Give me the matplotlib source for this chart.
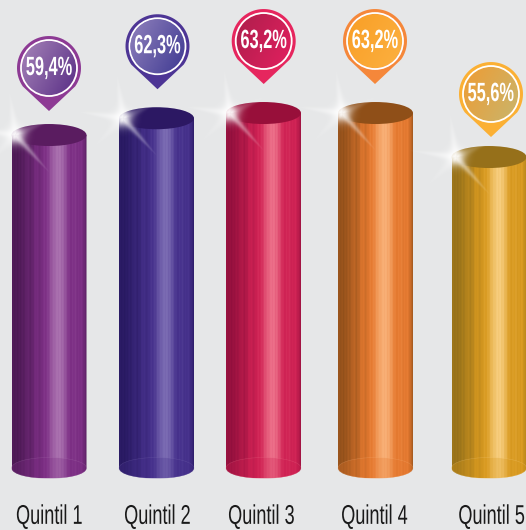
import matplotlib
matplotlib.use("Agg")
import matplotlib.pyplot as plt
import numpy as np
from matplotlib.colors import LinearSegmentedColormap
from matplotlib.patches import Ellipse, PathPatch, Polygon
from matplotlib.path import Path
from matplotlib.patheffects import AbstractPathEffect
from matplotlib.transforms import Affine2D

plt.rcParams['font.family'] = ['Liberation Sans', 'DejaVu Sans']

quintiles = ["Quintil 1", "Quintil 2", "Quintil 3", "Quintil 4", "Quintil 5"]
values = [59.4, 62.3, 63.2, 63.2, 55.6]
labels = ["59,4%", "62,3%", "63,2%", "63,2%", "55,6%"]

# colours for each cylinder
dark = ["#4a1852", "#271860", "#900f3c", "#8f4f1a", "#94701a"]
mid = ["#7d2f85", "#46318c", "#d02254", "#e67a30", "#d99a20"]
light = ["#b07ab5", "#8273b8", "#f07a90", "#fbb780", "#fbd48a"]
tops = ["#5a1c60", "#2c1863", "#980f3a", "#8f4f18", "#96701a"]
pins = ["#8d3a94", "#4d3595", "#e6265e", "#f5873a", "#fbb034"]
grad_a = ["#a583b8", "#8f80bc", "#ae1e4c", "#f99f26", "#ee9c34"]
grad_b = ["#5a2f86", "#3f3a92", "#e2205f", "#fcb040", "#c9b56c"]

xpos = [49, 156.5, 263.5, 375.5, 489]
pin_x = [49, 157.5, 263.7, 375, 491]
# outer labels are anchored on their figure side so the text box stays inside
label_x = [16, 157.5, 261.5, 374.5, 525]
label_ha = ["left", "center", "center", "center", "right"]
pin_lift = [67, 72, 72, 72, 63]   # pixels from cylinder top to pin centre
cyl_w = 75
scale = 5.79   # pixels per percent
base = 1.89
top_lim = 82.72
bot_lim = -8.82


class Squeeze(AbstractPathEffect):
    # narrow the glyphs around x0 (pixels), no condensed font is installed
    def __init__(self, x0, sx):
        super().__init__()
        self.x0 = x0
        self.sx = sx

    def draw_path(self, renderer, gc, tpath, affine, rgbFace=None):
        t = affine + Affine2D().translate(-self.x0, 0).scale(self.sx, 1).translate(self.x0, 0)
        renderer.draw_path(gc, tpath, t, rgbFace)


fig = plt.figure(figsize=(5.26, 5.30), dpi=100, facecolor="#e6e7e8")
ax = fig.add_axes([0, 0, 1, 1])
ax.set_xlim(0, 526)
ax.set_ylim(bot_lim, top_lim)
ax.set_autoscale_on(False)
ax.axis("off")

# shading across a cylinder, left to right
shade_pos = [0, .06, .1, .2, .24, .32, .38, .46, .52, .58, .68, .74, .8, .92, .97, 1]
shade_val = [.02, .08, .05, .24, .2, .42, .4, .55, .72, .92, .88, .58, .52, .5, .34, .18]
xs = np.linspace(0, 1, 220)
shade = np.interp(xs, shade_pos, shade_val)
shade = shade + 0.03 * np.sign(np.sin(xs * 150)) + 0.02 * np.sign(np.sin(xs * 61 + 1))
shade = np.clip(shade, 0, 1)

# sparkle: rays as (angle, length, half width, strength)
rays = [(98, 46, 4.5, .62), (172, 48, 4, .62), (-48, 52, 3.5, .6), (225, 44, 5, .3), (25, 42, 5, .3)]
sy_px, sx_px = np.mgrid[70:-70:281j, -70:70:281j]
sr = np.hypot(sx_px, sy_px)
spark = np.exp(-(sr / 9.0) ** 2) * 0.75
for ang, ln, wd, st in rays:
    a = np.radians(ang)
    along = sx_px * np.cos(a) + sy_px * np.sin(a)
    across = -sx_px * np.sin(a) + sy_px * np.cos(a)
    f = np.clip(1 - along / ln, 0, 1) * (along > 0)
    spark = 1 - (1 - spark) * (1 - st * f * np.exp(-(across / (wd * f + 0.3)) ** 2))
spark_rgba = np.ones(spark.shape + (4,))
spark_rgba[..., 3] = spark

for i in range(5):
    x = xpos[i]
    v = values[i]
    w = cyl_w / 2
    cmap = LinearSegmentedColormap.from_list("c", [dark[i], mid[i], light[i]])
    bh = 10.5 / scale
    th = 11 / scale

    # body: rectangle plus rounded bottom, used as a clip for the shading
    body = Path(
        [(x - w, v), (x - w, base), (x - w, base - bh * 1.33), (x + w, base - bh * 1.33),
         (x + w, base), (x + w, v), (x - w, v)],
        [Path.MOVETO, Path.LINETO, Path.CURVE4, Path.CURVE4, Path.CURVE4, Path.LINETO, Path.CLOSEPOLY])
    im = ax.imshow(shade[None, :], extent=[x - w, x + w, base - bh, v], aspect="auto",
                   cmap=cmap, vmin=0, vmax=1, zorder=2, interpolation="bilinear")
    im.set_clip_path(PathPatch(body, transform=ax.transData))

    # faint ellipse of the base
    ax.add_patch(Ellipse((x, base), 2 * w, 2 * bh, fc=mid[i], ec=light[i], lw=0.4, alpha=0.3, zorder=3))

    # top face
    ax.add_patch(Ellipse((x, v), 2 * w, 2 * th, fc=tops[i], ec="none", zorder=4))

    # pin
    py = v + pin_lift[i] / scale
    px = pin_x[i]
    r = 32
    tip = py - 43 / scale
    t = np.linspace(np.radians(-35), np.radians(215), 60)
    pts = [(px + r * np.cos(a), py + r * np.sin(a) / scale) for a in t]
    pts.append((px, tip))
    ax.add_patch(Polygon(pts, closed=True, fc=pins[i], ec="none", zorder=6))
    pcmap = LinearSegmentedColormap.from_list("p", [grad_a[i], grad_b[i]])
    yy, xx = np.mgrid[0:1:40j, 0:1:40j]
    disc = ax.imshow(xx * 0.65 + yy * 0.35, extent=[px - 27, px + 27, py - 27 / scale, py + 27 / scale],
                     origin="upper", aspect="auto", cmap=pcmap, zorder=7)
    disc.set_clip_path(Ellipse((px, py), 54, 54 / scale, transform=ax.transData))
    ax.add_patch(Ellipse((px, py), 56, 56 / scale, fc="none", ec="white", lw=1.3, zorder=8))
    tx = px + 23 if i == 4 else px
    ax.text(tx, py, labels[i], color="white", fontsize=19, fontweight="bold",
            ha="right" if i == 4 else "center", va="center", zorder=9,
            path_effects=[Squeeze(tx, 0.62)])

    # sparkle on the rim of the cylinder
    sx = x - w + 4
    sy = v
    s = ax.imshow(spark_rgba, extent=[sx - 70, sx + 70, sy - 70 / scale, sy + 70 / scale],
                  aspect="auto", zorder=5)
    s.set_clip_on(True)

    ax.text(label_x[i], -6.55, quintiles[i], color="#1a1a1a", fontsize=19.5, ha=label_ha[i], va="center",
            zorder=9, path_effects=[Squeeze(label_x[i], 0.67)])

fig.savefig("out.png", dpi=100, facecolor=fig.get_facecolor())
